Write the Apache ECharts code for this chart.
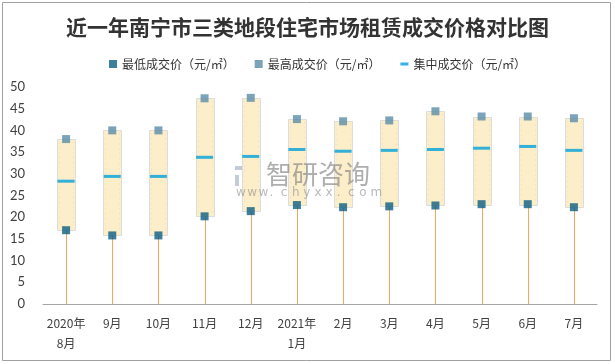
<!DOCTYPE html>
<html>
<head>
<meta charset="utf-8">
<script src="https://cdn.jsdelivr.net/npm/echarts@6/dist/echarts.min.js"></script>
<style>
html,body{margin:0;padding:0;background:#fff;}
#main{width:615px;height:364px;}
</style>
</head>
<body>
<div id="main"></div>
<script>
const categories = ['2020年\n8月','9月','10月','11月','12月','2021年\n1月','2月','3月','4月','5月','6月','7月'];
const minPrice = [17.0,15.8,15.8,20.2,21.4,22.8,22.3,22.5,22.7,23.0,23.0,22.3];
const maxPrice = [38.0,40.0,40.0,47.4,47.5,42.6,42.1,42.3,44.4,43.2,43.2,42.8];
const midPrice = [28.3,29.4,29.4,33.8,34.0,35.6,35.2,35.4,35.6,35.9,36.3,35.4];
const seriesNames = ['最低成交价（元/㎡）','最高成交价（元/㎡）','集中成交价（元/㎡）'];

const boxData = categories.map((c,i)=>[i, minPrice[i], maxPrice[i]]);
const stemData = categories.map((c,i)=>[i, 0, minPrice[i]]);

const chart = echarts.init(document.getElementById('main'), null, {renderer:'canvas'});

const wmChars = 'www.chyxx.com'.split('');
const wmGraphics = wmChars.map((ch,k)=>({
  type:'text', left: 236 + k*11.2, top: 187, silent:true, z:100,
  style:{text:ch, fill:'rgba(140,140,140,0.6)', font:'12px "DejaVu Sans"'}
}));

chart.setOption({
  animation:false,
  backgroundColor:'#fff',
  title:{
    text:'近一年南宁市三类地段住宅市场租赁成交价格对比图',
    left:'center', top:12,
    textStyle:{fontSize:21, fontWeight:'bold', color:'#333', fontFamily:'"Noto Sans CJK SC"'}
  },
  legend:{
    left:104, top:53,
    itemWidth:8, itemHeight:8, itemGap:20,
    textStyle:{fontSize:12, color:'#333', fontFamily:'"Noto Sans CJK SC"'},
    data:[
      {name:seriesNames[0], icon:'rect'},
      {name:seriesNames[1], icon:'rect'},
      {name:seriesNames[2], icon:'path://M0 0h8v3h-8z'}
    ]
  },
  grid:{left:43, right:18, top:87, bottom:60},
  xAxis:{
    type:'category', data:categories, boundaryGap:true,
    axisTick:{show:false},
    axisLine:{lineStyle:{color:'#a6a6a6', width:1}},
    axisLabel:{color:'#404040', fontSize:12, margin:9, lineHeight:20, interval:0, fontFamily:'"Noto Sans CJK SC"'}
  },
  yAxis:{
    type:'value', min:0, max:50, interval:5,
    axisLine:{show:false}, axisTick:{show:false}, splitLine:{show:false},
    axisLabel:{color:'#404040', fontSize:13, margin:18, fontFamily:'Lato'}
  },
  graphic:[
    {type:'rect', shape:{x:2.5, y:2.5, width:608, height:358}, style:{fill:'none', stroke:'#a0a0a0', lineWidth:1}, silent:true, z:-1},
    {type:'group', left:235, top:166, silent:true, z:100, children:[
      {type:'rect', shape:{x:0,y:0,width:11,height:4}, style:{fill:'rgba(170,180,200,0.7)'}},
      {type:'rect', shape:{x:7,y:0,width:4,height:10}, style:{fill:'rgba(170,180,200,0.7)'}},
      {type:'rect', shape:{x:0,y:9,width:4,height:11}, style:{fill:'rgba(170,180,200,0.7)'}},
      {type:'rect', shape:{x:13,y:0,width:11,height:4}, style:{fill:'rgba(150,190,200,0.7)'}},
      {type:'rect', shape:{x:13,y:8,width:11,height:4}, style:{fill:'rgba(150,190,200,0.7)'}},
      {type:'rect', shape:{x:13,y:16,width:11,height:4}, style:{fill:'rgba(150,190,200,0.7)'}}
    ]},
    {type:'text', left:266, top:161, silent:true, z:100,
      style:{text:'智研咨询', fill:'rgba(130,130,130,0.65)', font:'26px "Noto Sans CJK SC"'}}
  ].concat(wmGraphics),
  series:[
    {
      name:'stem', type:'custom', data:stemData, z:1, silent:true,
      encode:{x:0, y:[1,2]},
      renderItem:function(params, api){
        const i = api.value(0);
        const p0 = api.coord([i, api.value(1)]);
        const p1 = api.coord([i, api.value(2)]);
        const x = Math.round(p0[0]) + 0.5;
        return {type:'line', shape:{x1:x, y1:p0[1], x2:x, y2:p1[1]}, style:{stroke:'#F0A860', lineWidth:1}};
      }
    },
    {
      name:'box', type:'custom', data:boxData, z:2, silent:true,
      encode:{x:0, y:[1,2]},
      renderItem:function(params, api){
        const i = api.value(0);
        const lo = api.coord([i, api.value(1)]);
        const hi = api.coord([i, api.value(2)]);
        const cx = Math.round(lo[0]);
        return {type:'group', children:[
          {type:'rect', shape:{x:cx-9+0.5, y:Math.round(hi[1])+0.5, width:18, height:Math.round(lo[1]-hi[1])},
            style:{fill:'#FCEEC9', stroke:'#DCDCDC', lineWidth:1}},
          {type:'line', shape:{x1:cx-6.5, y1:hi[1]+3, x2:cx-6.5, y2:lo[1]-3}, style:{stroke:'#E9DFC8', lineWidth:1, lineDash:[1,4]}},
          {type:'line', shape:{x1:cx+7.5, y1:hi[1]+3, x2:cx+7.5, y2:lo[1]-3}, style:{stroke:'#E9DFC8', lineWidth:1, lineDash:[1,4]}}
        ]};
      }
    },
    {
      name:seriesNames[0], type:'scatter', data:minPrice, z:4,
      symbol:'rect', symbolSize:8, itemStyle:{color:'#0D5E82'}
    },
    {
      name:seriesNames[1], type:'scatter', data:maxPrice, z:4,
      symbol:'rect', symbolSize:8, itemStyle:{color:'#5B8CA6'}
    },
    {
      name:seriesNames[2], type:'scatter', data:midPrice, z:3,
      symbol:'rect', symbolSize:[17,3], itemStyle:{color:'#00A0DC'}
    }
  ]
});
</script>
</body>
</html>
